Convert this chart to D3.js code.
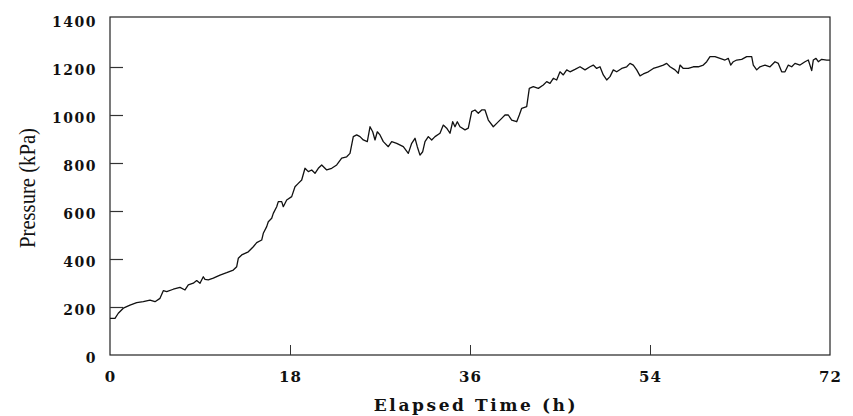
<!DOCTYPE html>
<html>
<head>
<meta charset="utf-8">
<script src="https://cdn.jsdelivr.net/npm/d3@7"></script>
<style>
  body { margin: 0; background: #fff; }
  svg { display: block; }
</style>
</head>
<body>
<svg id="chart" width="853" height="416"></svg>
<script>
// elapsed time (h) and pressure (kPa)
var hours = [0, 0.5, 0.83, 1.33, 2, 2.67, 3.33, 4, 4.5, 5, 5.33, 5.67, 6.33, 7, 7.5, 7.83, 8.33, 8.67, 9, 9.33,
  9.5, 9.83, 10.33, 11, 11.67, 12.33, 12.67, 12.83, 13.17, 13.83, 14.33, 14.67, 15.17, 15.33, 15.67, 15.83, 16.17, 16.33, 16.67, 16.83,
  17.17, 17.33, 17.67, 18.17, 18.5, 18.83, 19.17, 19.5, 19.83, 20.17, 20.5, 20.83, 21.17, 21.67, 22.17, 22.67, 23.17, 23.67, 24, 24.33,
  24.67, 25, 25.33, 25.73, 26, 26.27, 26.5, 26.73, 27, 27.33, 27.83, 28.17, 28.67, 29.33, 29.83, 30.17, 30.5, 30.73, 31, 31.27,
  31.5, 31.83, 32.17, 32.5, 33, 33.33, 33.67, 34, 34.27, 34.5, 34.73, 35, 35.5, 35.83, 36.17, 36.5, 36.83, 37.17, 37.5, 37.83,
  38.33, 38.67, 39.17, 39.5, 39.83, 40.17, 40.67, 40.93, 41.17, 41.67, 41.93, 42.33, 42.83, 43.33, 43.67, 44, 44.33, 44.67, 45, 45.33,
  45.67, 46, 46.5, 47, 47.5, 48, 48.33, 48.67, 49, 49.33, 49.67, 50, 50.33, 50.67, 51.17, 51.67, 52, 52.33, 52.67, 53,
  53.33, 53.83, 54.33, 54.83, 55.33, 55.67, 56, 56.5, 56.83, 57, 57.33, 57.83, 58.33, 58.83, 59.33, 59.67, 60, 60.5, 61, 61.5,
  61.83, 62.07, 62.33, 62.67, 63.17, 63.67, 64.17, 64.33, 64.67, 65, 65.5, 66, 66.5, 66.83, 67.17, 67.5, 67.83, 68.17, 68.5, 69,
  69.5, 69.83, 70.17, 70.33, 70.6, 70.83, 71.17, 71.67, 72];
var pressure = [153, 153, 174, 195, 208, 218, 222, 229, 222, 236, 268, 264, 274, 282, 271, 292, 299, 310, 299, 326,
  315, 313, 320, 333, 343, 354, 368, 403, 417, 430, 451, 468, 479, 507, 535, 555, 570, 590, 618, 639,
  639, 618, 646, 660, 701, 715, 729, 778, 764, 771, 757, 778, 792, 771, 778, 792, 820, 826, 840, 910,
  917, 910, 896, 889, 951, 930, 896, 930, 917, 889, 868, 889, 882, 868, 840, 882, 903, 868, 833, 847,
  889, 910, 896, 910, 924, 958, 945, 924, 972, 951, 972, 951, 938, 945, 1014, 1021, 1007, 1021, 1021, 979,
  951, 965, 986, 1000, 1000, 979, 972, 1000, 1028, 1035, 1111, 1118, 1111, 1125, 1139, 1132, 1153, 1146, 1180, 1167,
  1188, 1180, 1190, 1201, 1188, 1201, 1208, 1194, 1201, 1167, 1146, 1160, 1188, 1180, 1194, 1201, 1215, 1208, 1188, 1163,
  1171, 1180, 1194, 1201, 1208, 1215, 1201, 1188, 1174, 1208, 1194, 1194, 1201, 1201, 1208, 1222, 1243, 1243, 1236, 1229,
  1236, 1208, 1222, 1229, 1232, 1243, 1243, 1208, 1188, 1201, 1208, 1201, 1222, 1215, 1180, 1180, 1208, 1201, 1215, 1208,
  1222, 1229, 1185, 1229, 1236, 1222, 1232, 1229, 1229];

var xTicks = [0, 18, 36, 54, 72];
var yTicks = [0, 200, 400, 600, 800, 1000, 1200, 1400];

var svg = d3.select("#chart");
var mLeft = 110, mRight = 830, mTop = 19, mBottom = 355;

var x = d3.scaleLinear().domain([0, 72]).range([mLeft, mRight]);
var y = d3.scaleLinear().domain([0, 1400]).range([mBottom, mTop]);

// frame
svg.append("rect")
    .attr("x", mLeft)
    .attr("y", mTop - 2)
    .attr("width", mRight - mLeft)
    .attr("height", mBottom - mTop + 2)
    .attr("fill", "none")
    .attr("stroke", "#222")
    .attr("stroke-width", 1.2);

var xAxis = d3.axisBottom(x)
    .tickValues(xTicks)
    .tickFormat(d3.format("d"))
    .tickSize(-10)
    .tickPadding(16);

var gx = svg.append("g")
    .attr("transform", "translate(0," + mBottom + ")")
    .call(xAxis);
gx.select(".domain").remove();
gx.selectAll(".tick line").attr("stroke", "#333");
gx.selectAll(".tick").filter(d => d == 0 || d == 72).select("line").remove();
gx.selectAll("text")
    .style("font-family", "'DejaVu Serif', serif")
    .style("font-weight", "bold")
    .style("font-size", "15px")
    .style("letter-spacing", "1px")
    .attr("fill", "#111");

var yAxis = d3.axisLeft(y)
    .tickValues(yTicks)
    .tickFormat(d3.format("d"))
    .tickSize(-13)
    .tickPadding(13);

var gy = svg.append("g")
    .attr("transform", "translate(" + mLeft + ",0)")
    .call(yAxis);
gy.select(".domain").remove();
gy.selectAll(".tick line").attr("stroke", "#333").attr("stroke-width", 1.2);
gy.selectAll(".tick").filter(d => d == 0 || d == 1400).select("line").remove();
gy.selectAll("text")
    .attr("dy", "0.55em")
    .style("font-family", "'DejaVu Serif', serif")
    .style("font-weight", "bold")
    .style("font-size", "14px")
    .style("letter-spacing", "1.5px")
    .attr("fill", "#111");

var line = d3.line()
    .x((d, i) => x(hours[i]))
    .y(d => y(d));

svg.append("path")
    .datum(pressure)
    .attr("d", line)
    .attr("fill", "none")
    .attr("stroke", "#111")
    .attr("stroke-width", 1.3)
    .attr("stroke-linejoin", "round");

svg.append("text")
    .attr("x", 476)
    .attr("y", 411)
    .text("Elapsed Time (h)")
    .style("font-family", "'DejaVu Serif', serif")
    .style("font-weight", "bold")
    .style("font-size", "17px")
    .style("letter-spacing", "2.6px")
    .style("text-anchor", "middle")
    .attr("fill", "#111");

svg.append("text")
    .attr("transform", "translate(35,188) rotate(-90)")
    .text("Pressure (kPa)")
    .attr("textLength", 120)
    .attr("lengthAdjust", "spacingAndGlyphs")
    .style("font-family", "'Liberation Serif', serif")
    .style("font-size", "23px")
    .style("text-anchor", "middle")
    .attr("fill", "#111");
</script>
</body>
</html>
